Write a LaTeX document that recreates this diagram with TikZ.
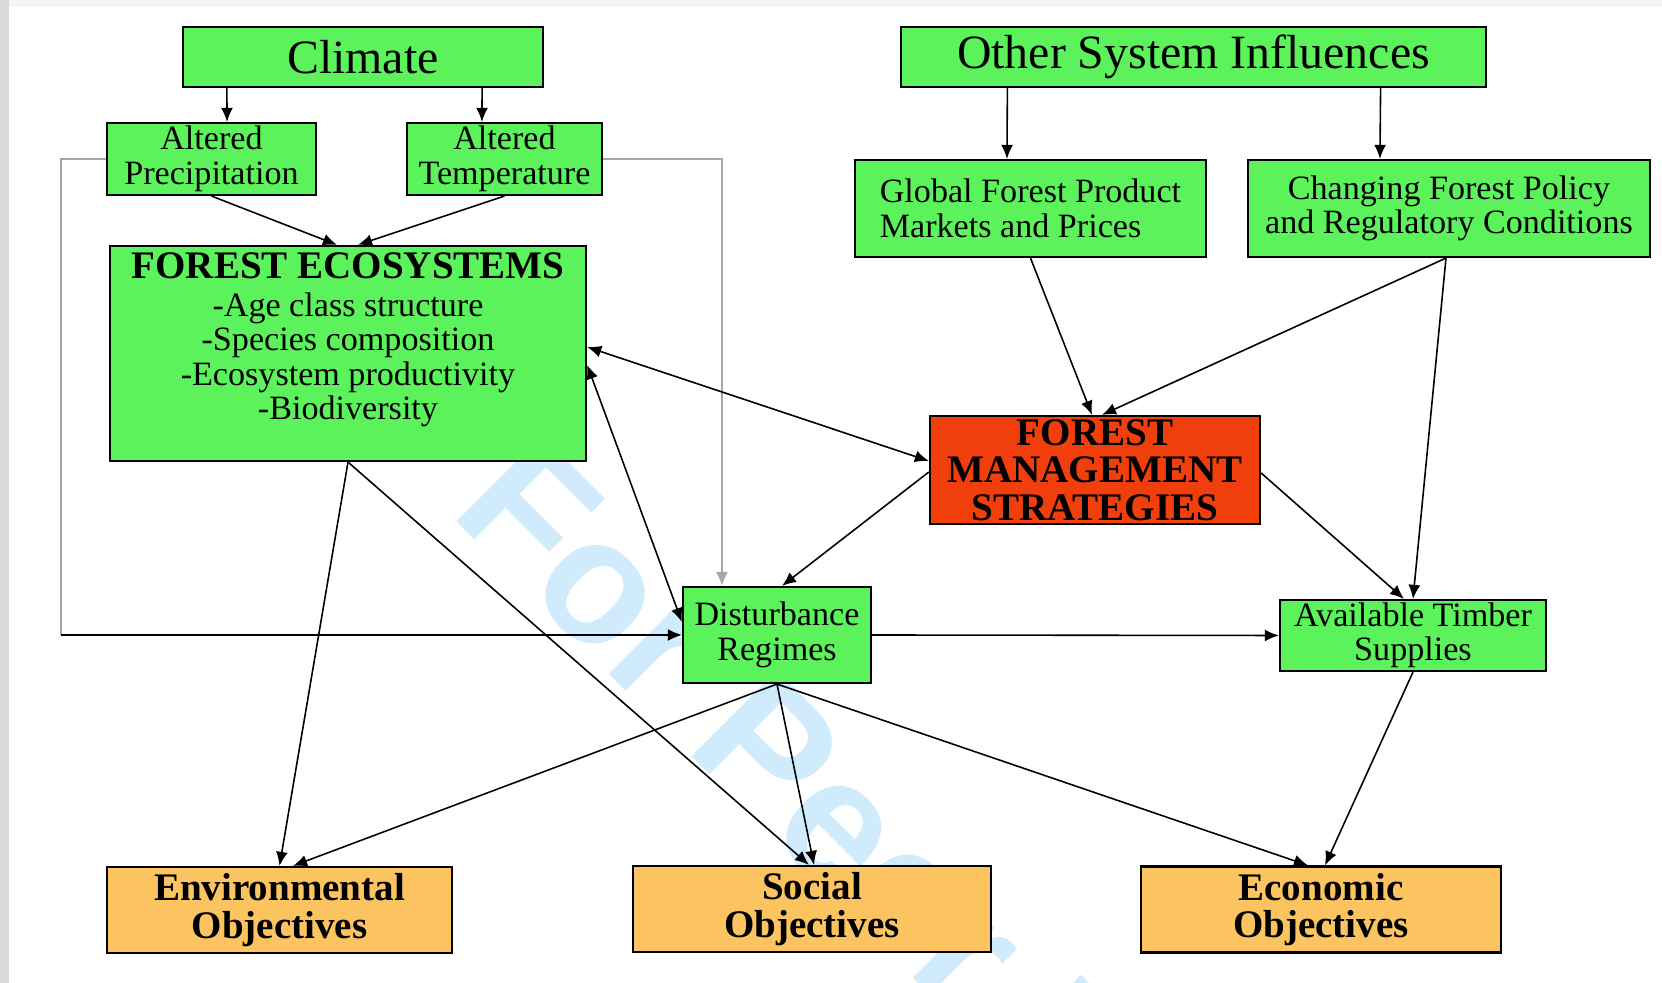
\documentclass[tikz,border=0pt]{standalone}
\usepackage{fontspec}
\setmainfont{Liberation Serif}
\setsansfont{Liberation Sans}
\usepackage{tikz}
\usetikzlibrary{arrows.meta}
\definecolor{boxgreen}{RGB}{92,242,92}
\definecolor{mgmtred}{RGB}{240,62,12}
\definecolor{objorange}{RGB}{252,196,96}
\definecolor{wmblue}{RGB}{208,235,251}
\newcommand{\largetxt}{\fontsize{13.6pt}{15pt}\selectfont}
\newcommand{\smalltxt}{\fontsize{9.7pt}{9.8pt}\selectfont}
\newcommand{\boldtxt}{\fontsize{11.1pt}{10.7pt}\selectfont\bfseries}
\tikzstyle{box} = [rectangle, draw=black, line width=0.6pt, fill=boxgreen, inner sep=0pt, align=center, text centered, font=\smalltxt]
\tikzstyle{redbox} = [box, fill=mgmtred, font=\boldtxt]
\tikzstyle{objbox} = [box, fill=objorange, font=\boldtxt]
\tikzstyle{arrow} = [line width=0.45pt, ->, >={Latex[length=4pt,width=3.4pt]}]
\tikzstyle{grayline} = [line width=0.45pt, gray!70]

\begin{document}
\begin{tikzpicture}[x=0.01cm, y=-0.01cm]
\useasboundingbox (0,0) rectangle (1662,983);
\fill [white] (0,0) rectangle (1662,983);
\fill [gray!8] (0,0) rectangle (1662,7);
\fill [gray!30] (0,0) rectangle (9,983);
\node (watermark) [rotate=-45, anchor=base west, text=wmblue, font=\fontsize{50pt}{50pt}\selectfont\sffamily\bfseries] at (440,505) {For Peer Review};

% top row
\node (clim) [box, minimum width=3.6cm, minimum height=0.6cm, font=\largetxt] at (363,57) {Climate};
\node (other) [box, minimum width=5.84cm, minimum height=0.6cm, font=\largetxt] at (1193.5,57) {Other System Influences};
\node (aprec) [box, minimum width=2.09cm, minimum height=0.72cm] at (211.5,159) {Altered\\Precipitation};
\node (atemp) [box, minimum width=1.95cm, minimum height=0.72cm] at (504.5,159) {Altered\\Temperature};
\node (market) [box, align=left, minimum width=3.51cm, minimum height=0.97cm] at (1030.5,208.5) {Global Forest Product\\Markets and Prices};
\node (policy) [box, minimum width=4.02cm, minimum height=0.97cm] at (1449,208.5) {Changing Forest Policy\\and Regulatory Conditions};

% middle
\node (forest) [box, minimum width=4.76cm, minimum height=2.15cm] at (348,353.5) {{\boldtxt FOREST ECOSYSTEMS}\\[1pt]-Age class structure\\-Species composition\\-Ecosystem productivity\\-Biodiversity\\~};
\node (mgmt) [redbox, minimum width=3.3cm, minimum height=1.08cm] at (1095,470) {FOREST\\MANAGEMENT\\STRATEGIES};
\node (dist) [box, minimum width=1.88cm, minimum height=0.96cm] at (777,635) {Disturbance\\Regimes};
\node (timber) [box, minimum width=2.66cm, minimum height=0.71cm] at (1413,635.5) {Available Timber\\Supplies};

% objectives
\node (env) [objbox, minimum width=3.45cm, minimum height=0.86cm] at (279.5,910) {Environmental\\Objectives};
\node (soc) [objbox, minimum width=3.58cm, minimum height=0.86cm] at (812,909) {Social\\Objectives};
\node (econ) [objbox, minimum width=3.59cm, minimum height=0.86cm] at (1321,909.5) {Economic\\Objectives};

\coordinate (lcorner) at (61,635);

\draw [arrow] ([xshift=-1.36cm]clim.south) -- ([xshift=0.155cm]aprec.north);
\draw [arrow] ([xshift=1.19cm]clim.south) -- ([xshift=-0.225cm]atemp.north);
\draw [arrow] ([xshift=-1.86cm]other.south) -- ([xshift=-0.235cm]market.north);
\draw [arrow] ([xshift=1.87cm]other.south) -- ([xshift=-0.69cm]policy.north);
\draw [arrow] (aprec.south) -- ([xshift=-0.11cm]forest.north);
\draw [arrow] (atemp.south) -- ([xshift=0.1cm]forest.north);
\draw [grayline] (aprec.west) -| (lcorner);
\draw [arrow] (lcorner) -- (dist.west);
\draw [grayline, arrow, gray!70] (atemp.east) -| ([xshift=-0.55cm]dist.north);
\draw [arrow] (market.south) -- ([xshift=-0.03cm]mgmt.north);
\draw [arrow] ([xshift=-0.03cm]policy.south) -- ([xshift=0.07cm]mgmt.north);
\draw [arrow] ([xshift=-0.03cm]policy.south) -- (timber.north);
\draw [arrow, <->] ([yshift=0.065cm]forest.east) -- ([yshift=0.09cm]mgmt.west);
\draw [arrow, <->] ([yshift=-0.115cm]forest.east) -- ([yshift=0.13cm]dist.west);
\draw [arrow] ([yshift=-0.02cm]mgmt.west) -- ([xshift=0.05cm]dist.north);
\draw [arrow] ([yshift=-0.03cm]mgmt.east) -- ([xshift=-0.09cm]timber.north);
\draw [arrow] (dist.east) -- (timber.west);
\draw [arrow] (forest.south) -- (env.north);
\draw [arrow] (forest.south) -- ([xshift=-0.03cm]soc.north);
\draw [arrow] (dist.south) -- ([xshift=0.135cm]env.north);
\draw [arrow] (dist.south) -- ([xshift=0.02cm]soc.north);
\draw [arrow] (dist.south) -- ([xshift=-0.13cm]econ.north);
\draw [arrow] (timber.south) -- ([xshift=0.04cm]econ.north);
\end{tikzpicture}
\end{document}
